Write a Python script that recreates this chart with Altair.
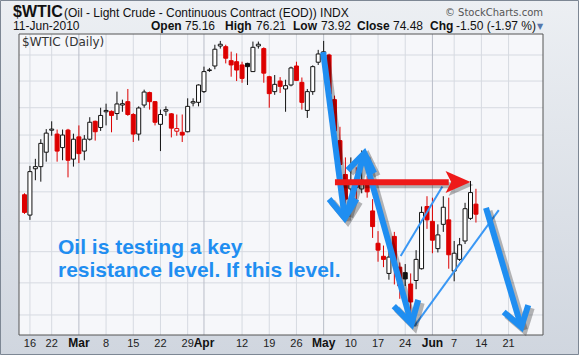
import altair as alt
import pandas as pd

# ---------------- data ----------------
# trading-session index 0 = 12-Feb-2010 ... 83 = 11-Jun-2010
opens = [75.8, 74.42, 77.6, 77.75, 78.77, 80.35, 80.07, 79.1, 80.36, 78.28,
         79.87, 78.85, 79.7, 81.0, 80.55, 81.7, 81.73, 81.57, 82.2, 82.45,
         81.5, 80.07, 82.2, 83.13, 82.45, 80.78, 81.75, 81.55, 80.28, 80.2,
         80.24, 82.35, 82.4, 83.2, 84.8, 85.15, 86.7, 86.65, 85.56, 85.48,
         85.23, 85.35, 84.72, 86.7, 86.5, 84.33, 83.2, 84.0, 83.4, 83.7,
         85.15, 83.9, 81.8, 83.2, 85.44, 86.1, 86.0, 82.6, 79.6, 77.2,
         76.2, 76.6, 76.2, 76.5, 74.7, 72.55, 71.7, 70.6, 73.0, 71.0,
         70.65, 69.93, 70.15, 70.9, 75.0, 74.0, 72.2, 73.8, 74.1, 70.75,
         71.5, 72.7, 74.2, 75.16]
highs = [75.9, 77.8, 78.3, 79.7, 80.43, 81.0, 80.4, 80.4, 80.45, 80.1,
         80.7, 80.0, 81.3, 81.05, 82.0, 82.3, 81.8, 83.2, 82.6, 83.4,
         81.6, 82.1, 83.35, 83.2, 82.5, 81.86, 82.1, 81.6, 81.5, 81.5,
         82.7, 82.7, 83.75, 85.1, 85.0, 86.8, 87.1, 86.8, 86.26, 86.13,
         85.48, 85.4, 87.05, 87.05, 86.6, 84.4, 84.46, 84.3, 84.1, 85.1,
         85.48, 84.27, 83.4, 85.2, 86.4, 87.1, 86.1, 82.9, 80.6, 78.4,
         78.4, 77.7, 78.9, 77.1, 75.5, 73.35, 72.4, 72.3, 73.3, 71.3,
         71.2, 70.6, 72.1, 75.0, 75.7, 75.6, 73.8, 75.7, 75.6, 72.7,
         72.9, 75.25, 76.75, 76.21]
lows = [74.5, 74.1, 76.8, 76.7, 78.1, 79.95, 78.1, 78.2, 77.0, 77.75,
        78.0, 78.2, 79.6, 79.6, 80.3, 80.7, 80.2, 81.1, 81.7, 81.4,
        79.5, 79.6, 82.0, 81.86, 80.7, 78.85, 81.4, 79.83, 79.95, 79.5,
        80.2, 82.1, 82.1, 83.1, 84.7, 84.9, 86.5, 85.35, 84.33, 84.0,
        83.87, 83.7, 84.7, 86.5, 83.87, 82.0, 82.96, 83.1, 81.7, 83.6,
        84.0, 81.86, 81.25, 82.96, 85.23, 85.6, 82.8, 79.8, 77.5, 75.2,
        75.5, 75.3, 75.9, 75.6, 72.9, 71.35, 71.0, 70.2, 69.9, 69.0,
        69.8, 67.3, 69.6, 70.85, 73.5, 71.9, 71.95, 73.3, 70.9, 70.1,
        71.4, 72.5, 74.1, 73.92]
closes = [74.6, 77.4, 77.75, 79.4, 80.14, 80.43, 78.85, 80.0, 78.2, 79.7,
          78.67, 79.7, 80.93, 80.24, 81.43, 81.8, 81.43, 82.28, 82.3, 81.5,
          80.07, 81.98, 83.17, 82.45, 80.93, 81.5, 81.86, 80.5, 80.47, 80.0,
          82.1, 82.45, 83.7, 84.72, 84.85, 86.45, 86.84, 85.75, 85.23, 84.84,
          84.2, 85.1, 86.6, 86.84, 84.6, 83.05, 83.75, 83.6, 83.65, 85.0,
          84.05, 82.4, 83.2, 85.1, 86.08, 86.25, 83.0, 80.3, 77.9, 75.5,
          76.7, 76.3, 76.8, 76.0, 73.65, 72.1, 71.5, 71.65, 71.35, 69.8,
          70.25, 68.8, 71.5, 74.6, 74.1, 72.75, 73.1, 74.95, 71.8, 71.9,
          72.45, 74.85, 75.95, 74.48]
prev_close_first = 75.9   # close of the session before the first bar

tick_idx = [1, 5, 10, 15, 20, 25, 30, 33, 40, 45, 50, 55, 60, 65, 70, 75, 79, 84, 89]
tick_labels = ["16", "22", "Mar", "8", "15", "22", "29", "Apr", "12", "19", "26",
               "May", "10", "17", "24", "Jun", "7", "14", "21"]
price_ticks = [68, 70, 72, 74, 76, 78, 80, 82, 84, 86]
n_sessions_axis = 94

# annotation geometry in (session index, price)
arrow_x0 = [54.91, 59.24, 62.49, 84.85]
arrow_y0 = [86.23, 74.49, 78.50, 74.90]
arrow_x1 = [58.88, 62.49, 71.15, 91.34]
arrow_y1 = [74.22, 78.71, 67.45, 67.26]
wingl_x = [56.00, 59.42, 67.90, 88.10]
wingl_y = [75.51, 77.51, 68.55, 68.18]
wingr_x = [61.05, 64.29, 72.39, 92.61]
wingr_y = [75.51, 77.30, 68.93, 68.61]
chan_x0 = [69.16, 71.69]
chan_y0 = [71.72, 67.32]
chan_x1 = [76.83, 87.20]
chan_y1 = [76.37, 74.76]
red_x0, red_x1, red_y = 57.08, 78.0, 76.66
red_head_x, red_head_y = 79.71, 76.68

# ---------------- styling ----------------
RED = "#dd0000"
BLACK = "#111111"
BLUE = "#1f8ef1"
ARROW_RED = "#ee1a1a"
W, H = 524, 301

n = len(opens)
prev = [prev_close_first] + closes[:-1]
candles = pd.DataFrame({"idx": list(range(n)), "open": opens, "high": highs,
                        "low": lows, "close": closes})
candles["stroke"] = [RED if c < p else BLACK for c, p in zip(closes, prev)]
candles["fill"] = [s if c < o else "#ffffff"
                   for s, c, o in zip(candles["stroke"], closes, opens)]

xs = alt.Scale(domain=[-0.09, 94.41], nice=False, zero=False)
ys = alt.Scale(type="log", domain=[66.78, 87.647], nice=False)
one = pd.DataFrame({"k": [0]})

canvas_bg = alt.Chart(one).mark_rect(
    fill=alt.Gradient(gradient="linear",
                      stops=[alt.GradientStop(color="#eceff3", offset=0),
                             alt.GradientStop(color="#d0d6df", offset=1)],
                      x1=0, x2=0, y1=0, y2=1),
    stroke="#7d8794", strokeWidth=1
).encode(x=alt.value(-18.5), x2=alt.value(559.5), y=alt.value(-33.5), y2=alt.value(320.5))

plot_bg = alt.Chart(one).mark_rect(fill="#f6f7fa").encode(
    x=alt.value(0), x2=alt.value(W), y=alt.value(0), y2=alt.value(H))

hgrid = alt.Chart(pd.DataFrame({"p": price_ticks})).mark_rule(
    color="#d6dae1", strokeWidth=1
).encode(y=alt.Y("p:Q", scale=ys, axis=alt.Axis(
    orient="right", values=price_ticks, format="d", labelFontSize=11,
    labelFont="Liberation Sans", labelColor="#222", ticks=True, tickSize=3,
    tickColor="#8a8f98", domain=False, grid=False, title=None,
    labelPadding=1, zindex=1)))

vg = pd.DataFrame({"idx": tick_idx, "label": tick_labels})
vg["gc"] = ["#b9bec8" if l.isalpha() else "#d6dae1" for l in tick_labels]
vg["month"] = [l.isalpha() for l in tick_labels]

vgrid = alt.Chart(vg).mark_rule(strokeWidth=1).encode(
    x=alt.X("idx:Q", scale=xs, axis=alt.Axis(
        values=list(range(n_sessions_axis)), labels=False, ticks=True, tickSize=3,
        tickColor="#8a8f98", domain=False, grid=False, title=None, zindex=1)),
    color=alt.Color("gc:N", scale=None))

wicks = alt.Chart(candles).mark_rule(strokeWidth=1, clip=True).encode(
    x=alt.X("idx:Q", scale=xs, axis=None),
    y=alt.Y("low:Q", scale=ys, axis=None), y2="high:Q",
    color=alt.Color("stroke:N", scale=None))

bodies = alt.Chart(candles).mark_bar(size=4, strokeWidth=1, clip=True).encode(
    x=alt.X("idx:Q", scale=xs, axis=None),
    y=alt.Y("open:Q", scale=ys, axis=None), y2="close:Q",
    fill=alt.Fill("fill:N", scale=None), stroke=alt.Stroke("stroke:N", scale=None))

def label(text, x, y, size=12, weight="normal", font="Liberation Sans",
          align="left", color="#111"):
    return alt.Chart(one).mark_text(
        text=text, fontSize=size, fontWeight=weight, font=font, align=align,
        baseline="alphabetic", color=color).encode(x=alt.value(x), y=alt.value(y))

note1 = label("Oil is testing a key", 39, 220, 21, "bold", color=BLUE)
note2 = label("resistance level. If this level.", 39, 243, 21, "bold", color=BLUE)

chan = pd.DataFrame({"x0": chan_x0, "y0": chan_y0, "x1": chan_x1, "y1": chan_y1})
channels = alt.Chart(chan).mark_rule(color="#3a98f5", strokeWidth=2).encode(
    x=alt.X("x0:Q", scale=xs, axis=None), y=alt.Y("y0:Q", scale=ys, axis=None),
    x2="x1:Q", y2="y1:Q")

rows = []
for i in range(len(arrow_x0)):
    rows += [{"seg": f"s{i}", "o": 0, "x": arrow_x0[i], "y": arrow_y0[i]},
             {"seg": f"s{i}", "o": 1, "x": arrow_x1[i], "y": arrow_y1[i]},
             {"seg": f"h{i}", "o": 0, "x": wingl_x[i], "y": wingl_y[i]},
             {"seg": f"h{i}", "o": 1, "x": arrow_x1[i], "y": arrow_y1[i]},
             {"seg": f"h{i}", "o": 2, "x": wingr_x[i], "y": wingr_y[i]}]
arrows_df = pd.DataFrame(rows)

def arrow_layer(**kw):
    return alt.Chart(arrows_df).mark_line(strokeJoin="miter", strokeCap="butt", **kw).encode(
        x=alt.X("x:Q", scale=xs, axis=None), y=alt.Y("y:Q", scale=ys, axis=None),
        detail="seg:N", order="o:Q")

arrow_shadow = arrow_layer(color="#000000", opacity=0.28, strokeWidth=7, xOffset=3, yOffset=3)
arrows = arrow_layer(color=BLUE, strokeWidth=6)

red_df = pd.DataFrame({"x0": [red_x0], "x1": [red_x1], "y": [red_y],
                       "hx": [red_head_x], "hy": [red_head_y]})
head_path = "M-1,-0.88L1,0L-1,0.88L-0.55,0Z"
red_shadow = alt.Chart(red_df).mark_rule(color="#000", opacity=0.28, strokeWidth=6,
                                         xOffset=3, yOffset=3, x2Offset=3).encode(
    x=alt.X("x0:Q", scale=xs, axis=None), x2="x1:Q", y=alt.Y("y:Q", scale=ys, axis=None))
red_shaft = alt.Chart(red_df).mark_rule(color=ARROW_RED, strokeWidth=6).encode(
    x=alt.X("x0:Q", scale=xs, axis=None), x2="x1:Q", y=alt.Y("y:Q", scale=ys, axis=None))
red_head_sh = alt.Chart(red_df).mark_point(shape=head_path, size=625, filled=True,
                                           color="#000", opacity=0.28, xOffset=3, yOffset=3).encode(
    x=alt.X("hx:Q", scale=xs, axis=None), y=alt.Y("hy:Q", scale=ys, axis=None))
red_head = alt.Chart(red_df).mark_point(shape=head_path, size=625, filled=True,
                                        color=ARROW_RED, opacity=1).encode(
    x=alt.X("hx:Q", scale=xs, axis=None), y=alt.Y("hy:Q", scale=ys, axis=None))

xlab_days = alt.Chart(vg).transform_filter("!datum.month").mark_text(
    baseline="alphabetic", align="center", font="Liberation Sans", fontSize=11,
    color="#222").encode(x=alt.X("idx:Q", scale=xs, axis=None), y=alt.value(313),
                         text="label:N")
xlab_months = alt.Chart(vg).transform_filter("datum.month").mark_text(
    baseline="alphabetic", align="center", font="Liberation Sans", fontSize=12,
    fontWeight="bold", color="#111").encode(x=alt.X("idx:Q", scale=xs, axis=None),
                                            y=alt.value(313), text="label:N")

border = alt.Chart(one).mark_rect(fillOpacity=0, stroke="#555", strokeWidth=1).encode(
    x=alt.value(0), x2=alt.value(W), y=alt.value(0), y2=alt.value(H))

hdr = [
    label("$WTIC", -6, -17, 16, "bold"),
    label("(Oil - Light Crude - Continuous Contract (EOD)) INDX", 45, -17, 12),
    label("\u00a9 StockCharts.com", 524, -18, 10, font="DejaVu Sans",
          align="right", color="#555"),
    label("11-Jun-2010", -6, -4, 12),
    label("Open", 132, -4, 12, "bold"), label("75.16", 166, -4, 12),
    label("High", 206, -4, 12, "bold"), label("76.21", 237, -4, 12),
    label("Low", 274, -4, 12, "bold"), label("73.92", 302, -4, 12),
    label("Close", 338, -4, 12, "bold"), label("74.48", 374, -4, 12),
    label("Chg", 411, -4, 12, "bold"), label("-1.50 (-1.97 %)", 437, -4, 12),
    label("\u25bc", 518, -5, 8, color="#5577aa", font="DejaVu Sans"),
    label("$WTIC (Daily)", 3, 12, 12, font="DejaVu Sans", color="#333"),
]

chart = alt.layer(
    canvas_bg, plot_bg, hgrid, vgrid, wicks, bodies, note1, note2, channels,
    arrow_shadow, red_shadow, red_head_sh, arrows, red_shaft, red_head,
    xlab_days, xlab_months, border, *hdr
).properties(
    width=W, height=H,
    autosize=alt.AutoSizeParams(type="none"),
    padding={"left": 19, "top": 34, "right": 36, "bottom": 20},
).configure(background="#dde2ea").configure_view(stroke=None)

chart.save("out.html", embed_options={"renderer": "svg", "actions": False})
